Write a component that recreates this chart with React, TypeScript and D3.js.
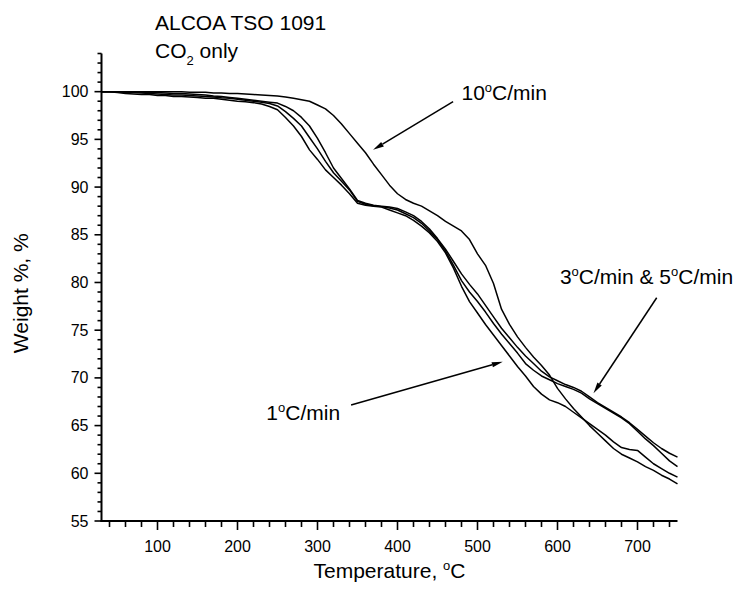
import React from "react";
import * as d3 from "d3";

// Temperature grid (°C)
const temperatures = [
  30, 40, 50, 60, 70, 80, 90, 100, 110, 120, 130, 140, 150, 160, 170, 180, 190, 200,
  210, 220, 230, 240, 250, 260, 270, 280, 290, 300, 310, 320, 330, 340, 350, 360, 370, 380,
  390, 400, 410, 420, 430, 440, 450, 460, 470, 480, 490, 500, 510, 520, 530, 540, 550, 560,
  570, 580, 590, 600, 610, 620, 630, 640, 650, 660, 670, 680, 690, 700, 710, 720, 730, 740, 750,
];

// Weight % series
const rate10 = [
  100.0, 100.0, 100.0, 100.0, 100.0, 100.0, 100.0, 100.0,
  100.0, 100.0, 100.0, 99.95, 99.95, 99.95, 99.85, 99.85, 99.8, 99.8,
  99.75, 99.7, 99.65, 99.6, 99.55, 99.45, 99.3, 99.15, 99.0, 98.6,
  98.2, 97.5, 96.6, 95.6, 94.6, 93.6, 92.4, 91.3, 90.2, 89.3,
  88.7, 88.3, 88.0, 87.5, 87.0, 86.4, 85.9, 85.4, 84.5, 83.0,
  81.8, 79.9, 77.2, 75.6, 74.3, 73.2, 72.2, 71.3, 70.3, 68.9,
  67.8, 66.8, 65.9, 65.0, 64.2, 63.4, 62.6, 62.0, 61.6, 61.2,
  60.7, 60.3, 59.8, 59.4, 58.9,
];
const rate1 = [
  100.0, 100.0, 99.9, 99.8, 99.75, 99.7, 99.7, 99.6,
  99.6, 99.5, 99.5, 99.45, 99.4, 99.3, 99.3, 99.2, 99.1, 99.0,
  98.95, 98.85, 98.7, 98.45, 98.1, 97.3, 96.4, 95.3, 93.9, 92.9,
  91.8, 91.0, 90.2, 89.3, 88.3, 88.1, 88.0, 87.9, 87.6, 87.3,
  87.0, 86.5, 85.9, 85.2, 84.3, 83.1, 81.5, 79.6, 78.0, 76.8,
  75.6, 74.5, 73.4, 72.3, 71.2, 70.2, 69.1, 68.3, 67.7, 67.4,
  67.0, 66.4, 65.8, 65.2, 64.6, 64.0, 63.3, 62.7, 62.5, 62.4,
  61.7, 61.0, 60.5, 60.0, 59.6,
];
const rate3 = [
  100.0, 100.0, 100.0, 99.9, 99.9, 99.85, 99.8, 99.75,
  99.7, 99.65, 99.65, 99.6, 99.55, 99.5, 99.45, 99.35, 99.3, 99.2,
  99.1, 99.0, 98.9, 98.75, 98.5, 97.9, 97.2, 96.4, 95.2, 94.0,
  92.7, 91.5, 90.6, 89.7, 88.5, 88.2, 88.05, 87.95, 87.8, 87.6,
  87.2, 86.8, 86.2, 85.4, 84.5, 83.3, 81.8, 80.2, 79.0, 78.0,
  76.9, 75.7, 74.6, 73.6, 72.6, 71.5, 70.8, 70.2, 69.8, 69.4,
  69.1, 68.8, 68.4, 67.8, 67.3, 66.8, 66.3, 65.8, 65.2, 64.4,
  63.6, 62.9, 62.1, 61.3, 60.7,
];
const rate5 = [
  100.0, 100.0, 100.0, 100.0, 100.0, 99.95, 99.9, 99.9,
  99.85, 99.8, 99.8, 99.75, 99.7, 99.65, 99.55, 99.5, 99.4, 99.3,
  99.2, 99.1, 99.0, 98.9, 98.8, 98.45, 98.0, 97.3, 96.4, 95.1,
  93.6, 92.0, 90.9, 89.8, 88.6, 88.3, 88.1, 88.0, 87.9, 87.75,
  87.4, 87.0, 86.4, 85.6, 84.6, 83.5, 82.2, 80.9, 79.8, 78.8,
  77.6, 76.4, 75.2, 74.2, 73.2, 72.3, 71.5, 70.7, 70.1, 69.7,
  69.3, 69.0, 68.6, 68.0, 67.4, 66.9, 66.4, 65.9, 65.3, 64.6,
  63.9, 63.2, 62.6, 62.1, 61.7,
];

const seriesList = [rate1, rate3, rate5, rate10];

const xMajorTicks = [100, 200, 300, 400, 500, 600, 700];
const yMajorTicks = [55, 60, 65, 70, 75, 80, 85, 90, 95, 100];

const W = 736;
const H = 594;
const FONT = "'Liberation Sans', Arial, Helvetica, sans-serif";
const BIG = 21;

const x = d3.scaleLinear().domain([30, 750]).range([101.5, 677.5]);
const y = d3.scaleLinear().domain([55, 104]).range([521, 53.5]);

function Arrow({ from, to }: { from: [number, number]; to: [number, number] }) {
  const x1 = x(from[0]), y1 = y(from[1]);
  const x2 = x(to[0]), y2 = y(to[1]);
  const dx = x2 - x1, dy = y2 - y1;
  const len = Math.hypot(dx, dy);
  const ux = dx / len, uy = dy / len;
  const hl = 11, hw = 2.6;
  const bx = x2 - ux * hl, by = y2 - uy * hl;
  const pts = [
    [x2, y2],
    [bx - uy * hw, by + ux * hw],
    [bx + uy * hw, by - ux * hw],
  ];
  return (
    <g>
      <line x1={x1} y1={y1} x2={bx} y2={by} stroke="#000" strokeWidth={1.5} />
      <polygon points={pts.map((p) => p.join(",")).join(" ")} fill="#000" />
    </g>
  );
}

function Rate({ parts, tx, ty }: { parts: string[][]; tx: number; ty: number }) {
  const kids: any[] = [];
  parts.forEach((p, i) => {
    kids.push(<tspan key={"a" + i}>{p[0]}</tspan>);
    kids.push(<tspan key={"b" + i} fontSize={13} dy={-8}>o</tspan>);
    kids.push(<tspan key={"c" + i} dy={8}>{p[1]}</tspan>);
  });
  return (
    <text x={tx} y={ty} fontFamily={FONT} fontSize={BIG} fill="#000">
      {kids}
    </text>
  );
}

export default function App() {
  const line = d3
    .line<number>()
    .x((_, i) => x(temperatures[i]))
    .y((d) => y(d));

  const xMinor = d3.range(40, 750, 20).filter((t) => !xMajorTicks.includes(t));
  const yMinor = d3.range(56, 105, 1).filter((v) => !yMajorTicks.includes(v));

  return (
    <svg
      width={W}
      height={H}
      viewBox={`0 0 ${W} ${H}`}
      style={{ position: "absolute", left: 0, top: 0, background: "#fff" }}
    >
      <rect width={W} height={H} fill="#fff" />
      {/* curves */}
      {seriesList.map((s, i) => (
        <path key={i} d={line(s) || ""} fill="none" stroke="#000" strokeWidth={1.5} strokeLinejoin="round" />
      ))}

      {/* axes */}
      <line x1={x(30)} y1={y(55) + 1} x2={x(30)} y2={y(104)} stroke="#000" strokeWidth={2} />
      <line x1={x(30) - 1} y1={y(55)} x2={x(750)} y2={y(55)} stroke="#000" strokeWidth={2} />

      {yMajorTicks.map((v) => (
        <g key={"ym" + v}>
          <line x1={x(30) - 7} x2={x(30)} y1={y(v)} y2={y(v)} stroke="#000" strokeWidth={1.6} />
          <text x={x(30) - 13} y={y(v)} dy="0.35em" textAnchor="end" fontFamily={FONT} fontSize={16}>
            {v}
          </text>
        </g>
      ))}
      {yMinor.map((v) => (
        <line key={"yn" + v} x1={x(30) - 4} x2={x(30)} y1={y(v)} y2={y(v)} stroke="#000" strokeWidth={1.6} />
      ))}

      {xMajorTicks.map((t) => (
        <g key={"xm" + t}>
          <line x1={x(t)} x2={x(t)} y1={y(55)} y2={y(55) + 9} stroke="#000" strokeWidth={1.6} />
          <text x={x(t)} y={y(55) + 31} textAnchor="middle" fontFamily={FONT} fontSize={16}>
            {t}
          </text>
        </g>
      ))}
      {xMinor.map((t) => (
        <line key={"xn" + t} x1={x(t)} x2={x(t)} y1={y(55)} y2={y(55) + 6} stroke="#000" strokeWidth={1.6} />
      ))}

      {/* axis titles */}
      <text x={(x(30) + x(750)) / 2} y={578} textAnchor="middle" fontFamily={FONT} fontSize={BIG}>
        <tspan>Temperature, </tspan>
        <tspan fontSize={13} dy={-8}>o</tspan>
        <tspan dy={8}>C</tspan>
      </text>
      <text
        transform={`translate(28, ${(y(55) + y(104)) / 2 + 6}) rotate(-90)`}
        textAnchor="middle"
        fontFamily={FONT}
        fontSize={BIG}
      >
        Weight %, %
      </text>

      {/* title */}
      <text x={155} y={30} fontFamily={FONT} fontSize={BIG}>
        ALCOA TSO 1091
      </text>
      <text x={155} y={58} fontFamily={FONT} fontSize={BIG}>
        <tspan>CO</tspan>
        <tspan fontSize={13} dy={7}>2</tspan>
        <tspan dy={-7}> only</tspan>
      </text>

      {/* annotations */}
      <Rate parts={[["10", "C/min"]]} tx={x(480)} ty={y(99.1)} />
      <Arrow from={[469.5, 98.95]} to={[369.5, 93.9]} />

      <Rate parts={[["3", "C/min & "], ["5", "C/min"]]} tx={x(603)} ty={y(79.8)} />
      <Arrow from={[724, 78.4]} to={[645, 68.4]} />

      <Rate parts={[["1", "C/min"]]} tx={x(236)} ty={y(65.6)} />
      <Arrow from={[342, 67.15]} to={[531.6, 71.7]} />
    </svg>
  );
}
